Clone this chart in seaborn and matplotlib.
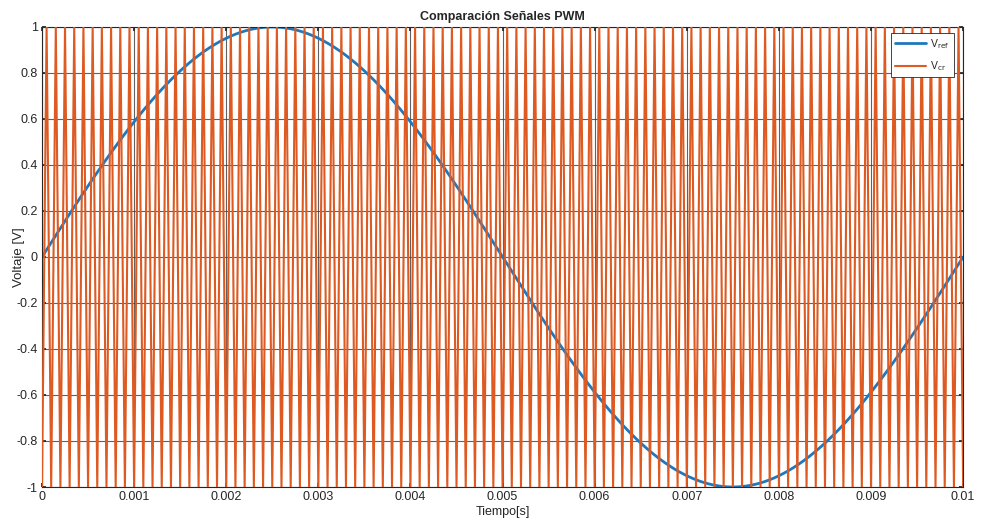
import numpy as np
import pandas as pd
import matplotlib
matplotlib.use("Agg")
import matplotlib.pyplot as plt
import seaborn as sns

# Signal parameters
f_ref = 100.0        # reference sine frequency [Hz]
f_cr = 10000.0       # triangular carrier frequency [Hz]
amp_ref = 1.0
amp_cr = 1.0
t_end = 0.01

x_ticks = [0, 0.001, 0.002, 0.003, 0.004, 0.005, 0.006, 0.007, 0.008, 0.009, 0.01]
x_ticklabels = ["0", "0.001", "0.002", "0.003", "0.004", "0.005", "0.006", "0.007", "0.008", "0.009", "0.01"]
y_ticks = [-1, -0.8, -0.6, -0.4, -0.2, 0, 0.2, 0.4, 0.6, 0.8, 1]
y_ticklabels = ["-1", "-0.8", "-0.6", "-0.4", "-0.2", "0", "0.2", "0.4", "0.6", "0.8", "1"]

# Time bases
t_ref = np.linspace(0, t_end, 2001)
v_ref = amp_ref * np.sin(2 * np.pi * f_ref * t_ref)

# Carrier vertices: -1 at start of each period, +1 at half period
n_per = int(round(t_end * f_cr))
t_cr = np.arange(0, 2 * n_per + 1) / (2 * f_cr)
v_cr = amp_cr * np.where(np.arange(len(t_cr)) % 2 == 0, -1.0, 1.0)

df_ref = pd.DataFrame({"t": t_ref, "v": v_ref})
df_cr = pd.DataFrame({"t": t_cr, "v": v_cr})

sns.set_theme(style="white")
plt.rcParams["font.family"] = ["Liberation Sans", "DejaVu Sans"]

fig = plt.figure(figsize=(9.81, 5.27), dpi=100)
ax = fig.add_axes([0.0428, 0.0759, 0.939, 0.8729])

sns.lineplot(data=df_ref, x="t", y="v", ax=ax, color="#1F77BD", lw=2.0,
             label=r"V$_{\mathrm{ref}}$", estimator=None, sort=False, zorder=2)
sns.lineplot(data=df_cr, x="t", y="v", ax=ax, color="#DD5A22", lw=1.5,
             label=r"V$_{\mathrm{cr}}$", estimator=None, sort=False, zorder=3)

ax.set_xlim(0, t_end)
ax.set_ylim(-1, 1)
ax.set_xticks(x_ticks)
ax.set_xticklabels(x_ticklabels)
ax.set_yticks(y_ticks)
ax.set_yticklabels(y_ticklabels)
ax.tick_params(axis="both", labelsize=9, length=3, direction="in", pad=3,
               colors="#262626", bottom=True, left=True, top=True, right=True,
               labeltop=False, labelright=False)

ax.grid(True, color="#3a3a3a", lw=0.8, alpha=0.8)
ax.set_axisbelow(True)
for s in ax.spines.values():
    s.set_color("#262626")
    s.set_linewidth(0.8)

ax.set_title("Comparación Señales PWM", fontsize=9, fontweight="bold", pad=5)
ax.set_xlabel("Tiempo[s]", fontsize=9, labelpad=2, color="#262626")
ax.set_ylabel("Voltaje [V]", fontsize=9.5, color="#262626")
ax.yaxis.set_label_coords(-0.0185, 0.5)

leg = ax.legend(loc="upper right", fontsize=7.5, frameon=True, fancybox=False,
                edgecolor="#262626", framealpha=1.0, handlelength=3.0,
                borderpad=0.4, labelspacing=0.8, handletextpad=0.4,
                bbox_to_anchor=(0.9955, 0.9985))
leg.get_frame().set_linewidth(0.6)

fig.savefig("out.png", dpi=100)
